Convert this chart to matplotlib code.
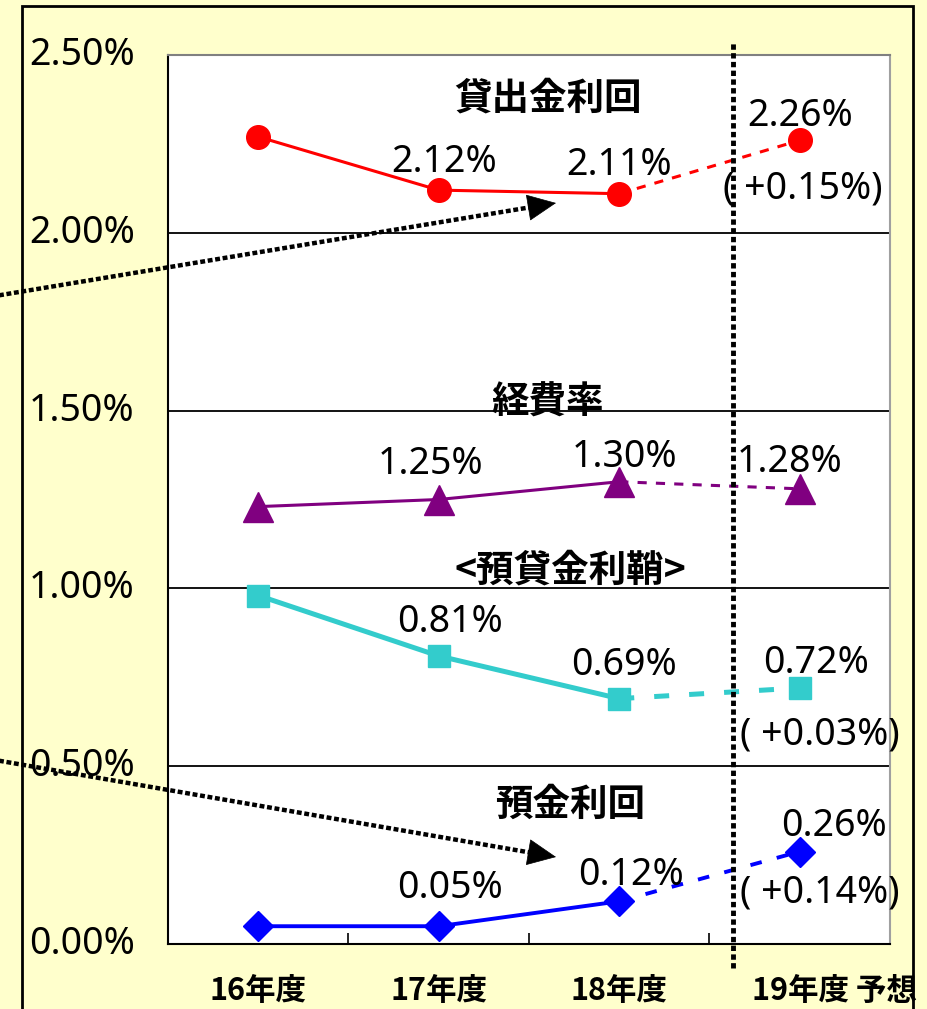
import numpy as np
import matplotlib
matplotlib.use("Agg")
from matplotlib import pyplot as plt
from matplotlib.patches import Rectangle
from matplotlib.transforms import IdentityTransform

years = ["16年度", "17年度", "18年度", "19年度 予想"]
x = np.arange(len(years))

loan_y = [2.27, 2.12, 2.11, 2.26]      # 貸出金利回
cost_y = [1.23, 1.25, 1.30, 1.28]      # 経費率
spread_y = [0.98, 0.81, 0.69, 0.72]    # 預貸金利鞘
deposit_y = [0.05, 0.05, 0.12, 0.26]   # 預金利回

loan_labels = ["", "2.12%", "2.11%", "2.26%"]
cost_labels = ["", "1.25%", "1.30%", "1.28%"]
spread_labels = ["", "0.81%", "0.69%", "0.72%"]
deposit_labels = ["", "0.05%", "0.12%", "0.26%"]
diff_labels = {"loan": "( +0.15%)", "spread": "( +0.03%)", "deposit": "( +0.14%)"}

NUM = ["Noto Sans", "DejaVu Sans"]
JP = ["Noto Sans CJK JP", "DejaVu Sans"]

fig = plt.figure(figsize=(9.28, 10.09), dpi=100, facecolor="#FFFFCC")
ax = fig.add_axes([168 / 928, 65 / 1009, 722 / 928, 889 / 1009])
ax.set_xlim(-0.5, 3.5)
ax.set_ylim(0, 2.5)

# outer frame
fig.add_artist(Rectangle((22 / 928, -0.02), 891 / 928, 1.014, transform=fig.transFigure,
                         fill=False, lw=2, ec="black", zorder=0))

ax.set_yticks([0, 0.5, 1.0, 1.5, 2.0, 2.5])
ax.set_yticklabels(["%.2f%%" % v for v in [0, 0.5, 1.0, 1.5, 2.0, 2.5]],
                   fontfamily=NUM, fontsize=27, va="center")
ax.tick_params(axis="y", length=0, pad=24)
ax.yaxis.grid(True, color="black", lw=1.3)
ax.set_axisbelow(True)

ax.set_xticks(x)
ax.set_xticklabels([])
ax.tick_params(axis="x", which="major", length=0)
ax.set_xticks(np.arange(-0.5, 4, 1), minor=True)
ax.tick_params(axis="x", which="minor", direction="in", length=8, width=1.2)
for i, lab in enumerate(years):
    ax.annotate(lab, xy=(x[i], 0), xycoords=("data", "axes fraction"),
                xytext=((0, -31) if i < 3 else (-48, -31)), textcoords="offset pixels",
                ha=("center" if i < 3 else "left"), va="top",
                fontfamily=JP, fontsize=22, fontweight="bold", annotation_clip=False)

ax.spines["left"].set_color("black")
ax.spines["bottom"].set_color("black")
ax.spines["top"].set_color("#808080")
ax.spines["right"].set_color("#A0A0A0")
for s in ax.spines.values():
    s.set_linewidth(1.5)


def draw_series(vals, color, marker, ms, lw, dashes):
    ax.plot(x[:3], vals[:3], color=color, lw=lw, zorder=3)
    ax.plot(x[2:], vals[2:], color=color, lw=lw, dashes=dashes, zorder=3)
    ax.plot(x, vals, ls="none", marker=marker, ms=ms, color=color, mec=color, zorder=4)


draw_series(loan_y, "#FF0000", "o", 17, 2.2, (3, 3))
draw_series(cost_y, "#800080", "^", 21, 2.2, (3, 3))
draw_series(spread_y, "#33CCCC", "s", 16, 3.6, (3, 4))
draw_series(deposit_y, "#0000FF", "D", 15, 2.8, (3, 4))


def label(i, val, txt, dx, dy):
    ax.annotate(txt, xy=(x[i], val), xytext=(dx, dy), textcoords="offset pixels",
                ha="center", va="center", fontfamily=NUM, fontsize=27, zorder=6)


loan_off = [None, (5, 28), (0, 29), (0, 24)]
cost_off = [None, (-8, 35), (5, 25), (-10, 27)]
spread_off = [None, (11, 34), (5, 34), (16, 25)]
deposit_off = [None, (11, 38), (12, 26), (34, 26)]
for vals, labs, offs in [(loan_y, loan_labels, loan_off), (cost_y, cost_labels, cost_off),
                         (spread_y, spread_labels, spread_off),
                         (deposit_y, deposit_labels, deposit_off)]:
    for i in range(1, 4):
        label(i, vals[i], labs[i], *offs[i])

label(3, loan_y[3], diff_labels["loan"], 3, -48)
label(3, spread_y[3], diff_labels["spread"], 20, -47)
label(3, deposit_y[3], diff_labels["deposit"], 20, -41)

# series titles
title_kw = dict(transform=ax.transAxes, ha="center", va="center", fontfamily=JP,
                fontsize=27, fontweight="bold", zorder=6)
ax.text(0.526, 0.952, "貸出金利回", **title_kw)
ax.text(0.526, 0.610, "経費率", **title_kw)
ax.text(0.557, 0.421, "<預貸金利鞘>", **title_kw)
ax.text(0.557, 0.157, "預金利回", **title_kw)

# forecast divider
ax.plot([2.63, 2.63], [-0.027, 1.0146], transform=ax.get_xaxis_transform(), color="black",
        lw=3.5, dashes=(1.1, 0.7), clip_on=False, zorder=5)

# dotted pointer arrows (figure pixel coords)
for start, tip in [((-5, 713), (556, 806)), ((-5, 249), (556, 152))]:
    d = np.array(tip) - np.array(start)
    neck = np.array(tip) - d / np.hypot(*d) * 24
    ax.plot([start[0], neck[0]], [start[1], neck[1]], transform=IdentityTransform(),
            color="black", lw=3.2, dashes=(1.1, 0.6), clip_on=False, zorder=7)
    ax.annotate("", xy=tip, xytext=tuple(neck - d / np.hypot(*d) * 2),
                xycoords="figure pixels", textcoords="figure pixels",
                arrowprops=dict(arrowstyle="-|>,head_length=0.65,head_width=0.3",
                                mutation_scale=30, lw=0.5, color="black",
                                shrinkA=0, shrinkB=0),
                annotation_clip=False, zorder=7)

plt.savefig("out.png", dpi=100, facecolor=fig.get_facecolor())
